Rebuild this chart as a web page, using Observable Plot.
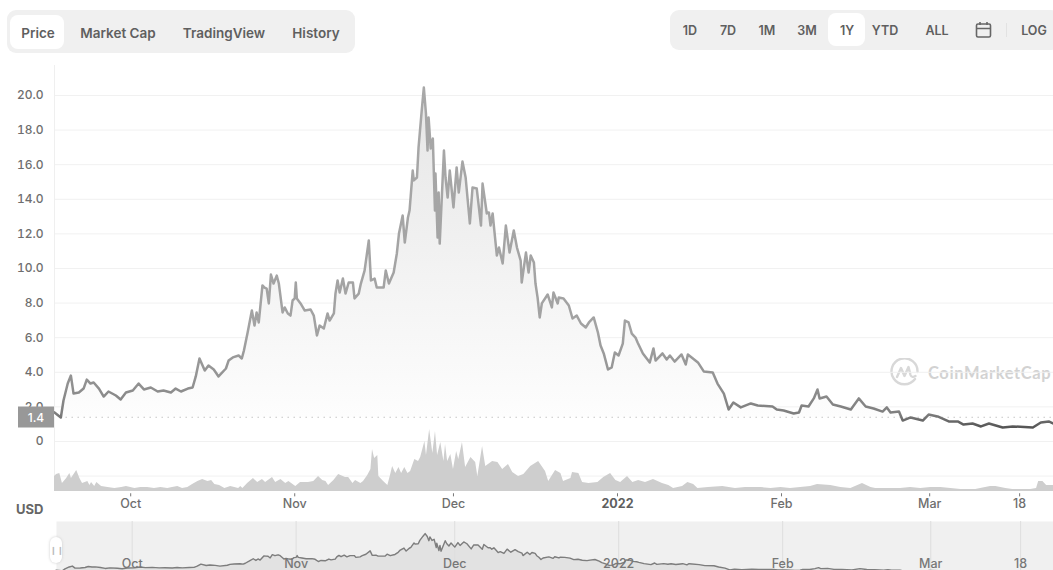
<!DOCTYPE html>
<html>
<head>
<meta charset="utf-8">
<script src="https://cdn.jsdelivr.net/npm/d3@7"></script>
<script src="https://cdn.jsdelivr.net/npm/@observablehq/plot@0.6"></script>
<style>
  html, body { margin: 0; padding: 0; background: #fff; overflow: hidden; }
  #page { position: relative; width: 1053px; height: 570px; overflow: hidden; font-family: Inter, "Noto Sans", sans-serif; color: #5f5f5f; }
  .bar { position: absolute; background: #f0f0f0; }
  .chip { position: absolute; background: #fff; border-radius: 8px; }
  .tab { position: absolute; transform: translate(-50%, -50%); white-space: nowrap; font-weight: 600; }
  #tabs .tab { font-size: 13.5px; top: 33px; }
  #ranges .tab { font-size: 12.5px; top: 30px; }
  #handle { position: absolute; left: 50px; top: 537px; width: 12px; height: 26px; background: #fff; border-radius: 6px; box-shadow: 0 0 3px #ccc; color: #bbb; font-size: 8px; line-height: 26px; text-align: center; }
  #lastPrice { position: absolute; left: 18px; width: 36px; height: 21px; line-height: 21px; background: #989898; color: #fff; text-align: center; font-size: 12px; font-weight: 500; transform: translateY(-50%); }
  #usd { position: absolute; left: 16px; top: 501px; font-size: 13px; font-weight: 700; color: #666; }
  #brand { position: absolute; left: 890px; top: 358px; display: flex; align-items: center; gap: 9px; color: #d2d2d2; font: 700 16.5px Lato, sans-serif; letter-spacing: .6px; white-space: nowrap; }
</style>
</head>
<body>
<div id="page">
  <div id="tabs">
    <div class="bar" style="left:7px;top:10px;width:348px;height:43px;border-radius:9px"></div>
    <div class="chip" style="left:10px;top:15px;width:54px;height:34px"></div>
    <span class="tab" style="left:38px">Price</span>
    <span class="tab" style="left:118px">Market Cap</span>
    <span class="tab" style="left:224px">TradingView</span>
    <span class="tab" style="left:316px">History</span>
  </div>
  <div id="ranges">
    <div class="bar" style="left:670px;top:10px;width:390px;height:40px;border-radius:9px"></div>
    <div class="chip" style="left:828px;top:13px;width:37px;height:33px"></div>
    <span class="tab" style="left:690px">1D</span>
    <span class="tab" style="left:728px">7D</span>
    <span class="tab" style="left:767px">1M</span>
    <span class="tab" style="left:807px">3M</span>
    <span class="tab" style="left:847px">1Y</span>
    <span class="tab" style="left:885px">YTD</span>
    <span class="tab" style="left:937px">ALL</span>
    <svg style="position:absolute;left:975px;top:21px" width="17" height="18" viewBox="0 0 17 18" fill="none" stroke="#666" stroke-width="1.6">
      <rect x="1.5" y="3" width="14" height="13" rx="1.5"/><path d="M1.5 7.5h14M5 1v3M12 1v3"/>
    </svg>
    <div style="position:absolute;left:1006px;top:23px;width:1px;height:14px;background:#e2e2e2"></div>
    <span class="tab" style="left:1034px">LOG</span>
  </div>
  <div id="usd">USD</div>
  <div id="brand">
    <svg width="29" height="29" viewBox="0 0 29 29" fill="none" stroke="#d8d8d8" stroke-width="2.4" stroke-linecap="round" stroke-linejoin="round">
      <path d="M25 21a13 13 0 1 1 2.5-7"/><path d="M7 19l4-9 3.5 8 4-9 2 8c.7 2.2 3 2.4 5 1"/>
    </svg>
    <span>CoinMarketCap</span>
  </div>
  <div id="chart"></div>
</div>
<script>
// Price history: days since 1 Oct 2021, and USD price on that day.
const priceDays = [-14.4,-13.2,-12.7,-11.9,-11.3,-10.8,-9.8,-8.9,-8.3,-7.6,-7.0,-6.0,-5.1,-4.2,-2.8,-1.9,-0.9,0.4,1.5,2.5,3.8,5.1,6.2,7.6,8.5,9.5,10.8,11.7,12.3,13.0,14.0,14.7,15.7,16.6,18.0,18.5,19.3,20.4,21.0,21.4,22.1,22.9,23.4,23.8,24.2,24.9,25.3,25.7,26.1,26.5,27.0,27.6,28.0,28.7,29.1,29.7,30.2,30.6,31.0,31.2,31.4,32.1,32.9,34.0,34.6,35.2,35.7,36.5,37.2,37.6,38.4,38.7,39.1,39.5,40.1,40.6,41.2,42.0,42.3,43.1,43.5,44.2,45.0,45.4,46.1,46.5,47.8,48.2,48.8,49.7,50.3,50.7,51.4,51.8,52.4,52.7,53.3,53.5,54.1,54.4,55.0,55.4,55.8,56.1,56.3,56.7,57.1,57.5,57.6,58.0,58.2,58.4,59.2,59.5,59.9,60.3,61.0,61.6,62.0,62.7,63.3,64.1,64.6,65.4,66.2,66.5,67.3,67.7,68.0,68.4,69.2,69.6,70.3,70.9,71.6,72.4,73.0,73.7,73.9,74.7,75.2,75.6,76.2,76.5,76.9,77.3,77.7,78.8,79.6,79.9,80.7,80.9,81.8,82.8,83.5,84.3,85.1,86.0,86.6,87.5,88.3,88.8,89.4,90.2,90.9,91.5,92.2,93.0,93.4,94.1,94.7,95.4,95.8,96.8,98.1,98.8,99.2,100.5,101.3,101.9,102.8,104.1,104.9,105.3,107.2,108.3,110.0,110.9,112.1,113.0,113.9,115.3,117.2,118.5,121.3,122.1,123.4,125.3,126.3,126.8,128.1,129.1,129.8,130.2,131.5,132.7,134.2,136.1,137.6,138.9,140.4,142.1,142.9,143.6,145.2,145.9,147.4,149.7,150.8,152.5,154.6,156.3,157.4,159.1,160.7,162.2,164.8,166.7,170.5,172.0,173.5,174.4];
const priceValues = [1.68,1.39,2.37,3.35,3.81,2.77,2.83,3.06,3.58,3.35,3.41,3.06,2.60,2.89,2.66,2.43,2.83,2.95,3.35,3.01,3.12,2.89,2.95,2.83,3.06,2.89,3.06,3.12,3.76,4.80,4.10,4.39,4.16,3.76,4.22,4.68,4.86,4.97,4.80,5.26,6.30,7.57,6.70,7.46,6.88,9.02,8.90,8.84,7.98,9.65,9.13,9.59,9.13,7.46,7.75,7.40,7.28,8.15,8.27,9.19,8.27,7.98,7.57,7.63,7.28,6.13,6.70,6.53,7.40,6.99,7.40,8.55,9.31,8.61,9.42,8.55,9.19,9.19,8.27,8.55,9.13,9.88,11.62,9.31,9.42,8.90,8.90,9.88,9.13,9.77,10.87,12.02,13.06,11.50,12.95,13.35,15.66,15.09,15.26,16.99,19.13,20.46,18.96,16.82,18.73,16.94,17.51,13.35,15.49,11.79,14.39,11.44,16.82,15.26,14.10,15.66,13.53,15.84,14.39,16.18,15.26,12.60,14.68,14.62,12.48,14.91,13.18,13.24,12.48,13.18,10.75,11.21,10.29,12.48,10.92,12.20,11.21,10.46,9.19,10.92,9.77,10.75,10.35,9.13,8.32,7.17,7.98,8.50,7.75,8.61,7.98,8.32,8.27,7.86,7.11,7.28,6.82,6.59,6.88,7.17,6.30,5.55,5.09,4.16,4.28,5.14,4.97,5.66,6.99,6.88,6.24,6.01,5.72,5.09,4.57,5.38,4.68,5.09,4.74,4.97,4.62,5.03,4.45,5.03,4.57,4.05,3.99,3.35,2.77,1.85,2.25,1.97,2.20,2.08,2.02,1.85,1.79,1.62,1.68,2.08,2.02,2.49,3.01,2.49,2.60,2.14,2.02,1.85,2.49,2.02,1.91,1.73,1.97,1.68,1.73,1.21,1.39,1.21,1.56,1.45,1.16,1.16,0.98,1.04,0.87,1.04,0.81,0.87,0.81,1.10,1.16,1.04];

// Traded volume, in relative units.
const volumeDays = [-14.4,-14.0,-13.4,-12.9,-12.1,-11.5,-11.2,-10.2,-9.6,-9.1,-8.1,-7.7,-7.4,-6.8,-6.4,-5.5,-4.3,-3.0,-1.7,-0.8,0.8,1.9,3.2,4.5,5.7,7.0,7.9,8.9,9.8,10.8,11.7,12.7,13.6,14.6,15.3,15.9,16.8,17.8,18.9,20.4,20.8,21.2,22.1,23.2,24.0,24.9,25.5,26.8,27.4,28.4,29.3,29.9,31.2,32.1,33.6,34.6,35.5,36.3,36.9,37.4,38.4,39.3,40.6,41.2,42.0,42.5,43.5,44.0,44.8,45.4,45.7,46.1,46.7,46.9,47.8,48.6,49.1,49.5,50.1,50.7,51.2,51.8,52.4,52.9,53.7,54.4,54.8,55.6,55.9,56.5,57.1,57.6,58.0,58.6,59.2,59.5,59.9,60.5,61.0,61.6,62.0,62.7,63.3,64.3,65.2,65.6,66.5,67.1,68.4,69.4,70.3,71.4,72.2,73.3,74.3,75.6,77.1,78.4,79.0,80.3,81.3,81.8,83.2,83.5,84.7,85.4,86.6,88.3,89.4,90.7,91.7,92.6,93.9,94.9,96.0,97.3,98.8,100.5,101.7,102.6,104.3,105.3,106.4,107.2,109.2,111.9,114.3,116.2,119.1,121.0,122.9,124.7,126.6,128.5,129.8,132.3,134.2,136.1,138.3,139.9,140.8,143.6,145.5,147.4,149.3,151.2,153.1,155.0,156.9,159.7,162.5,163.5,165.4,166.7,168.2,170.1,171.2,171.6,172.4,173.1,174.4];
const volumeValues = [15,17,18,8,13,18,13,21,13,8,10,6,9,5,9,5,4,3,4,5,3,4,4,3,4,3,4,5,3,4,7,10,12,10,11,7,6,3,5,3,5,3,8,13,9,12,9,14,9,12,8,10,5,9,9,10,15,11,10,6,11,17,14,14,8,11,8,10,16,22,42,33,36,15,10,6,16,25,18,24,18,24,18,20,32,30,34,50,36,62,38,60,36,49,30,47,30,37,22,40,32,49,24,34,29,15,45,25,30,29,22,27,19,15,17,25,30,20,10,21,18,10,13,19,18,9,8,9,14,18,11,9,15,9,11,9,12,8,6,3,5,9,7,3,4,5,3,4,4,3,4,3,4,5,7,6,4,3,8,4,3,3,3,4,3,4,4,3,2,2,5,5,3,2,2,2,3,10,10,6,6];

// Axis ticks.
const priceTicks = [0, 2, 4, 6, 8, 10, 12, 14, 16, 18, 20];
const gridLevels = [-2, ...priceTicks];
const tickDates = ["2021-10-01", "2021-11-01", "2021-12-01", "2022-01-01", "2022-02-01", "2022-03-01", "2022-03-18"];
const tickLabels = ["Oct", "Nov", "Dec", "2022", "Feb", "Mar", "18"];
const referencePrice = 1.4;

const dayZero = Date.UTC(2021, 9, 1);
const toDate = (day) => new Date(dayZero + day * 864e5);
const prices = priceDays.map((day, i) => ({date: toDate(day), price: priceValues[i]}));
const volumes = volumeDays.map((day, i) => ({date: toDate(day), volume: volumeValues[i]}));
const ticks = tickDates.map((s, i) => ({date: new Date(s), label: tickLabels[i]}));
const dateDomain = [toDate(priceDays[0]), toDate(priceDays[priceDays.length - 1])];
const font = "Inter, 'Noto Sans', sans-serif";

// Paints for the price area and its line, darkening toward the bottom of the chart.
const gradients = () => {
  const defs = d3.create("svg:defs");
  const add = (id, stops) => {
    const g = defs.append("linearGradient").attr("id", id).attr("x1", 0).attr("x2", 0).attr("y1", 0).attr("y2", 1);
    for (const [offset, color] of stops) g.append("stop").attr("offset", offset).attr("stop-color", color);
  };
  add("priceFill", [[0, "#e6e6e6"], [0.45, "#f0f0f0"], [1, "#fdfdfd"]]);
  add("priceStroke", [[0, "#a8a8a8"], [0.72, "#a2a2a2"], [0.88, "#909090"], [0.96, "#7e7e7e"], [1, "#555555"]]);
  return defs.node();
};

const page = d3.select("#chart");

// Main price chart.
const mainPlot = Plot.plot({
  width: 1053, height: 458, marginLeft: 54, marginRight: 0, marginTop: 3, marginBottom: 29,
  style: {background: "transparent", fontFamily: font},
  x: {type: "utc", domain: dateDomain, axis: null},
  y: {domain: [0, 20], range: [379, 33]},
  marks: [
    gradients,
    Plot.ruleY(gridLevels, {stroke: "#f1f1f1"}),
    Plot.ruleX([dateDomain[0]], {stroke: "#efefef"}),
    Plot.areaY(prices, {x: "date", y1: referencePrice, y2: (d) => Math.max(d.price, referencePrice), fill: "url(#priceFill)"}),
    Plot.ruleY([referencePrice], {x1: toDate(-12.2), x2: dateDomain[1], stroke: "#a8a8a8", strokeDasharray: "1 5"}),
    Plot.line(prices, {x: "date", y: "price", stroke: "url(#priceStroke)", strokeWidth: 2.5, strokeLinejoin: "round"}),
    Plot.axisY({ticks: priceTicks, tickSize: 0, tickPadding: 11, fontSize: 12, fontWeight: 500, color: "#6e6e6e", label: null,
      tickFormat: (d) => d === 0 ? "0" : d.toFixed(1)}),
    // Short tick marks just below the volume baseline, which sits under the zero of the price scale.
    Plot.ruleX(ticks, {x: "date", y1: -3.02, y2: -3.2, stroke: "#777"}),
    Plot.text(ticks.filter((d) => d.label !== "2022"), {x: "date", frameAnchor: "bottom", dy: 16, text: "label", fontSize: 12.5, fontWeight: 500, fill: "#6e6e6e"}),
    Plot.text(ticks.filter((d) => d.label === "2022"), {x: "date", frameAnchor: "bottom", dy: 16, text: "label", fontSize: 12.5, fontWeight: 700, fill: "#5f5f5f"})
  ]
});

// Volume overlay, sharing the main chart's time axis and covering its lower grid lines.
const volumePlot = Plot.plot({
  width: 1053, height: 458, marginLeft: 54, marginRight: 0, marginTop: 3, marginBottom: 29,
  style: {background: "transparent"},
  x: {type: "utc", domain: dateDomain, axis: null},
  y: {domain: [0, 62], range: [429, 367], axis: null},
  marks: [
    Plot.areaY(volumes, {x: "date", y: "volume", fill: "#cecece"})
  ]
});

// Overview strip along the bottom: the same series at a smaller scale.
const navPlot = Plot.plot({
  width: 1053, height: 49, marginLeft: 56, marginRight: 0, marginTop: 0, marginBottom: 0,
  style: {background: "transparent", fontFamily: font},
  x: {type: "utc", domain: dateDomain, range: [55.5, 1054], axis: null},
  y: {domain: [0, 20], range: [52, 13], axis: null},
  marks: [
    Plot.frame({fill: "#f0f0f0", stroke: null}),
    Plot.areaY(prices, {x: "date", y1: 0, y2: "price", fill: "#e2e2e2"}),
    Plot.ruleX(ticks, {x: "date", stroke: "#dedede"}),
    Plot.line(prices, {x: "date", y: "price", stroke: "#7d7d7d", strokeWidth: 1.4}),
    Plot.text(ticks, {x: "date", frameAnchor: "bottom", dy: -3, text: "label", fontSize: 12.5, fontWeight: 500, fill: "#777"})
  ]
});

d3.select(mainPlot).style("position", "absolute").style("top", "62px");
d3.select(volumePlot).style("position", "absolute").style("top", "62px");
d3.select(navPlot).style("position", "absolute").style("top", "521px");
page.node().append(mainPlot, volumePlot, navPlot);

// Current-price tag on the axis, placed by the price scale.
page.append("div").attr("id", "lastPrice")
  .style("top", `${62 + mainPlot.scale("y").apply(referencePrice)}px`)
  .text(referencePrice.toFixed(1));
page.append("div").attr("id", "handle").text("❙❙");
</script>
</body>
</html>
